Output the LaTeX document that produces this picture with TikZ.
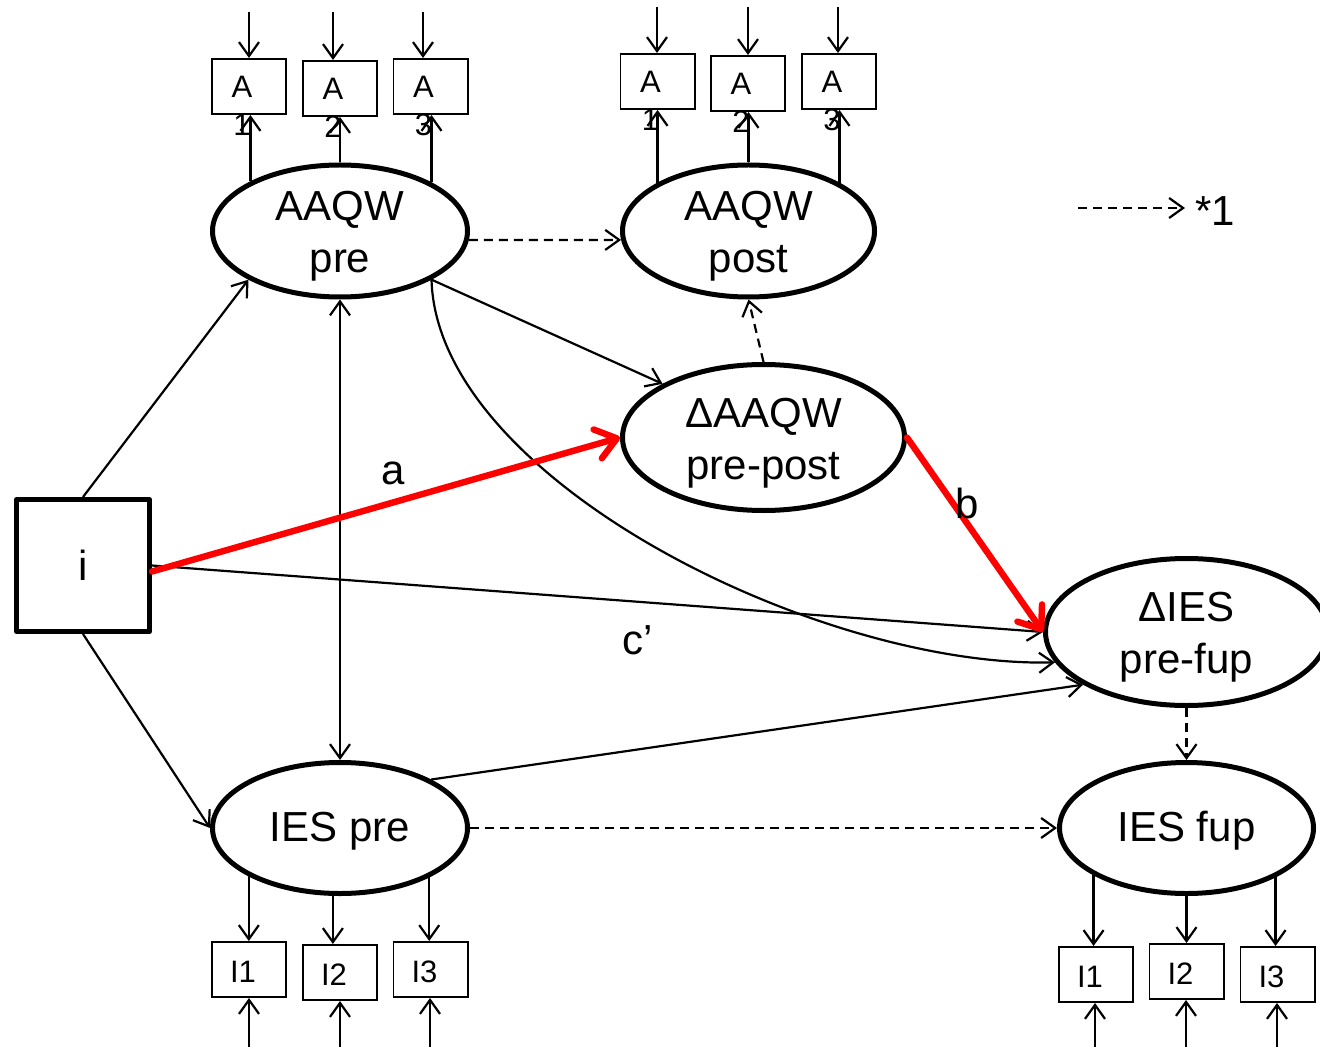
\documentclass[tikz,border=0pt]{standalone}
\usepackage{fontspec}
\setmainfont{Liberation Sans}
\usetikzlibrary{shapes.geometric,arrows.meta}
\newcommand{\topstrut}[1]{\rule{0pt}{#1}}
\begin{document}
\begin{tikzpicture}[x=0.5pt,y=-0.5pt,
  >={Straight Barb[length=7pt,width=10pt]},
  lat/.style={ellipse,draw,line width=2.5pt,inner xsep=0pt,inner ysep=-9pt,
    align=center,font=\fontsize{21}{26}\selectfont},
  ind/.style={draw,line width=0.8pt,minimum width=37.2pt,minimum height=27.7pt,inner sep=0pt},
  itxt/.style={font=\fontsize{15.5}{18}\selectfont,inner sep=0pt},
  lab/.style={font=\fontsize{21}{25}\selectfont,inner sep=0pt},
  link/.style={->,line width=1.1pt},
  dlink/.style={->,line width=1.1pt,dash pattern=on 4.5pt off 3pt},
  hot/.style={draw=red,line width=3.2pt,line cap=round,
    -{Straight Barb[length=10pt,width=15pt,round]}}
]
\useasboundingbox (0,0) rectangle (1320,1047);

% latent variables
\node[lat,minimum width=127.5pt,minimum height=66pt] (apre)  at (340,231)   {\topstrut{20pt}AAQW\\pre};
\node[lat,minimum width=126pt,minimum height=66pt]   (apost) at (748.5,231) {\topstrut{20pt}AAQW\\post};
\node[lat,minimum width=141pt,minimum height=73pt]   (daaqw) at (763.5,437.5) {\topstrut{20pt}ΔAAQW\\pre-post};
\node[lat,minimum width=141pt,minimum height=73.5pt] (dies)  at (1186.5,632) {\topstrut{20pt}ΔIES\\pre-fup};
\node[lat,minimum width=127.5pt,minimum height=65.5pt] (ipre) at (340,828)  {\topstrut{18pt}IES pre};
\node[lat,minimum width=127pt,minimum height=65.5pt] (ifup)  at (1186.5,828) {\topstrut{18pt}IES fup};

% intervention
\node[draw,line width=2.5pt,line join=round,minimum width=66.5pt,minimum height=66pt,
  inner sep=0pt,font=\fontsize{21}{25}\selectfont] (i) at (83,565.5) {i};

% AAQW indicators
\foreach \n/\x/\y/\d in {ta1/249/86.5/1, ta2/340/88.5/2, ta3/430.5/86.5/3,
                         tb1/657.5/81.5/1, tb2/748/83.5/2, tb3/839/81.5/3} {
  \node[ind] (\n) at (\x,\y) {};
  \node[itxt,xshift=-3.5pt] (\n a) at (\x,\y) {A};
  \node[itxt,xshift=-3.5pt] (\n d) at (\x,\y+38) {\d};
}
% IES indicators
\foreach \n/\x/\y/\t in {ba1/249/969.5/I1, ba2/340/972.5/I2, ba3/430.5/969.5/I3,
                         bb1/1096/974.5/I1, bb2/1186.5/971.5/I2, bb3/1277.5/974.5/I3} {
  \node[ind] (\n) at (\x,\y) {};
  \node[itxt,xshift=-3pt] (\n t) at (\x,\y+2) {\t};
}

% residual arrows into the indicators
\foreach \n/\x/\y in {ta1/249/12, ta2/333/12, ta3/423/12,
                      tb1/657/7, tb2/748/7, tb3/838/7} {
  \coordinate (e\n) at (\x,\y);
  \draw[link] (e\n) -- (e\n |- \n.north);
}
\foreach \n/\x in {ba1/249, ba2/340, ba3/430, bb1/1095, bb2/1186, bb3/1277} {
  \coordinate (e\n) at (\x,1050);
  \draw[link] (e\n) -- (e\n |- \n.south);
}

% loadings
\foreach \a/\n in {151.7/ta1, 90/ta2, 28.3/ta3} {
  \draw[link] (apre.\a) -- (apre.\a |- \n.south);
}
\foreach \a/\n in {152.3/tb1, 90/tb2, 28.8/tb3} {
  \draw[link] (apost.\a) -- (apost.\a |- \n.south);
}
\foreach \a/\n in {208.3/ba1, 264.1/ba2, 331.7/ba3} {
  \draw[link] (ipre.\a) -- (ipre.\a |- \n.north);
}
\foreach \a/\n in {207.7/bb1, 270/bb2, 331.7/bb3} {
  \draw[link] (ifup.\a) -- (ifup.\a |- \n.north);
}

% structural paths
\draw[link] (i.north) -- (apre.208);
\draw[link] (i.south) -- (ipre.west);
\draw[link] (i.east) -- (dies.west);
\draw[<->,line width=1.1pt] (apre.south) -- (ipre.north);
\draw[dlink] (apre.-4) -- (apost.184);
\draw[link] (apre.-28) -- (daaqw.152);
\draw[link] (apre.-28) .. controls (437,480) and (820,668) .. (dies.193);
\draw[link] (ipre.28.5) -- (dies.207);
\draw[dlink] (ipre.east) -- (ifup.west);
\draw[dlink] (daaqw.north) -- (apost.south);
\draw[dlink] (dies.south) -- (ifup.north);

% mediated paths
\draw[hot] ([yshift=-3pt]i.east) -- (daaqw.west);
\draw[hot] (daaqw.east) -- (dies.west);

% path labels
\node[lab] (la) at (393,473) {a};
\node[lab] (lb) at (967,503) {b};
\node[lab] (lc) at (638,640) {c’};

% key
\coordinate (k0) at (1078,208);
\coordinate (k1) at (1185,208);
\draw[dlink] (k0) -- (k1);
\node[lab] (kt) at (1215,211) {*1};
\end{tikzpicture}
\end{document}
